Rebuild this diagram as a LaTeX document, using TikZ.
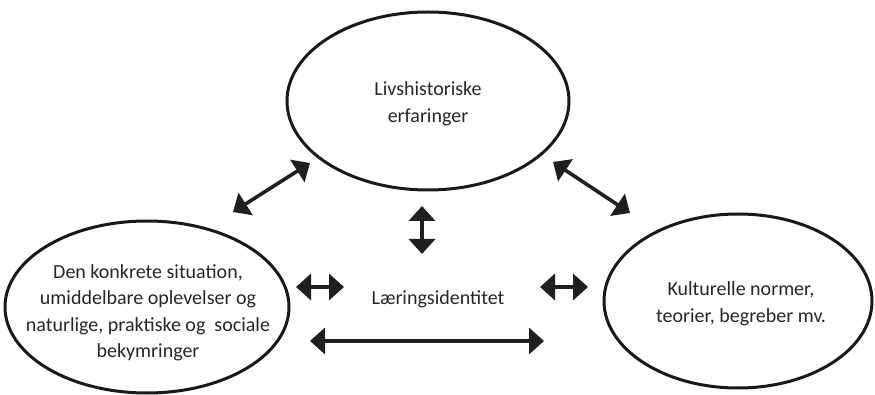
\documentclass[tikz,border=0pt]{standalone}
\usepackage{fontspec}
\setmainfont{Carlito}
\usetikzlibrary{shapes.geometric,arrows.meta}
\tikzset{
  bubble/.style={draw=black!90, line width=3pt, ellipse, inner sep=0pt},
  txt/.style={align=center, font=\fontsize{20}{26.5}\selectfont, text=black!85, inner sep=0pt},
  dbl/.style={line width=3.6pt, draw=black!88, {Triangle[length=15pt,width=26pt]}-{Triangle[length=15pt,width=26pt]}}
}
\begin{document}
\begin{tikzpicture}[x=1pt,y=-1pt]
\useasboundingbox (0,0) rectangle (875,395);
\node[bubble, minimum width=282pt, minimum height=178pt] (top) at (428,101) {};
\node[bubble, minimum width=284pt, minimum height=172pt] (left) at (147,307) {};
\node[bubble, minimum width=268pt, minimum height=174pt] (right) at (738,301) {};
\node[txt] (toptxt) at (428,104) {Livshistoriske\\erfaringer};
\node[txt] (lefttxt) at (148,313) {Den konkrete situation,\\umiddelbare oplevelser og\\naturlige, praktiske og\ \ sociale\\bekymringer};
\node[txt] (righttxt) at (741,304) {Kulturelle normer,\\teorier, begreber mv.};
\node[txt] (mid) at (438,299) {Læringsidentitet};
\coordinate (a1) at (233,212); \coordinate (a2) at (310,163);
\coordinate (b1) at (553,162); \coordinate (b2) at (630,213);
\coordinate (c1) at (422,206); \coordinate (c2) at (422,254);
\coordinate (d1) at (296,287); \coordinate (d2) at (344,287);
\coordinate (e1) at (540,287); \coordinate (e2) at (588,287);
\coordinate (f1) at (310,341); \coordinate (f2) at (544,341);
\draw[dbl] (a1) -- (a2);
\draw[dbl] (b1) -- (b2);
\draw[dbl] (c1) -- (c2);
\draw[dbl] (d1) -- (d2);
\draw[dbl] (e1) -- (e2);
\draw[dbl] (f1) -- (f2);
\end{tikzpicture}
\end{document}
